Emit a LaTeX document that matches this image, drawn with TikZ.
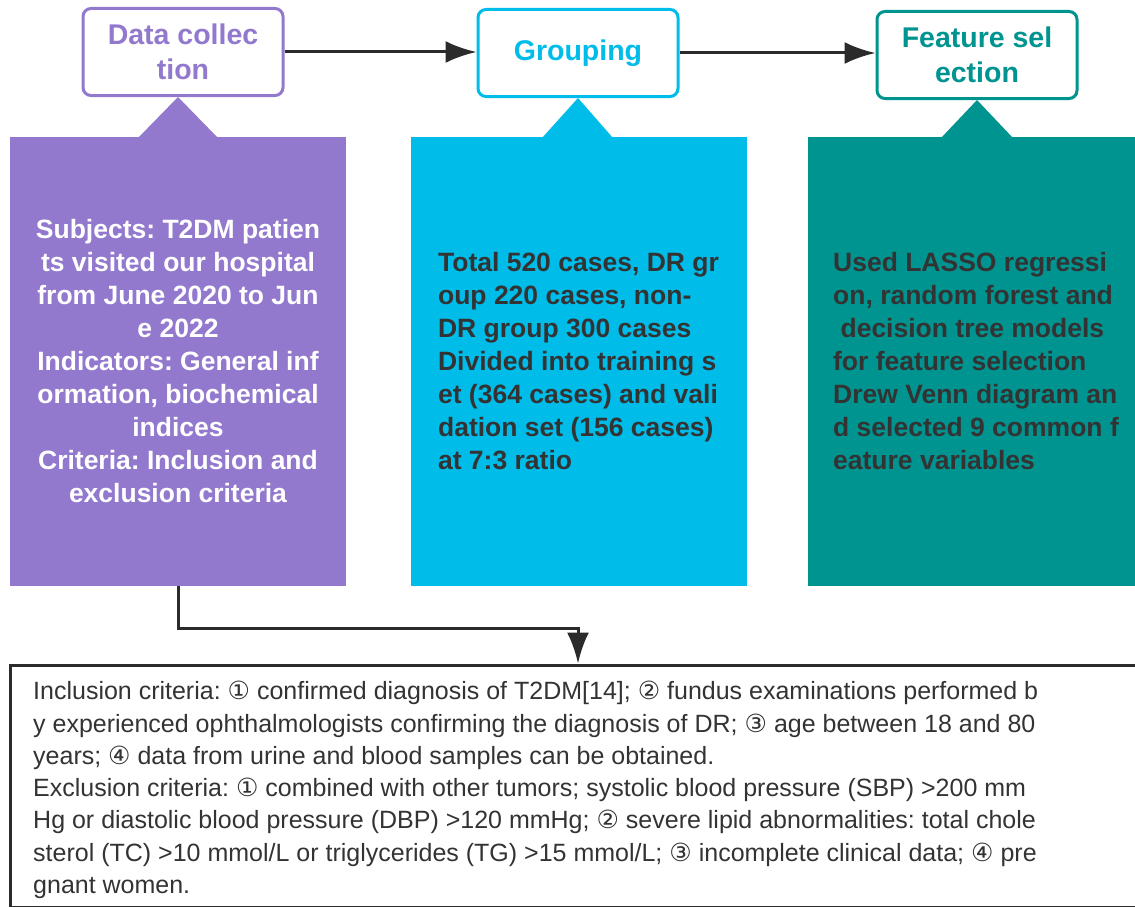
\documentclass[tikz,border=0pt]{standalone}
\usepackage{fontspec}
\setmainfont{Liberation Sans}
\newfontfamily\circfont{DejaVu Sans}
\usetikzlibrary{arrows.meta}
\definecolor{dcpurple}{RGB}{146,121,206}
\definecolor{grpcyan}{RGB}{0,188,233}
\definecolor{fsteal}{RGB}{0,148,144}
\definecolor{linegray}{RGB}{43,43,43}
\definecolor{txtgray}{RGB}{51,51,51}
\newcommand{\cnum}[1]{{\circfont #1}}
\frenchspacing
\tikzset{>={Latex[length=31pt,width=22pt]}}

\begin{document}
\begin{tikzpicture}[x=1pt, y=-1pt,
  head/.style={draw=#1, line width=3pt, rounded corners=8pt, fill=white,
    minimum width=200pt, minimum height=87pt, text=#1, align=center,
    font=\fontsize{28.5}{35}\selectfont\bfseries},
  body/.style={fill=#1, minimum width=336pt, minimum height=449pt, inner sep=0pt,
    font=\fontsize{26.5}{33}\selectfont\bfseries},
  flow/.style={draw=linegray, line width=3pt, ->}]
      \useasboundingbox (0,0) rectangle (1135,907);
      \node[head=dcpurple] (dhead) at (183,52) {Data collec\\tion};
      \node[head=grpcyan] (ghead) at (578,53) {Grouping};
      \node[head=fsteal] (fhead) at (977,55) {Feature sel\\ection};
      \fill[dcpurple] (138,138) -- (218,138) -- (dhead.south -| 178,0) -- cycle;
      \fill[grpcyan] (542,138) -- (613,138) -- (ghead.south) -- cycle;
      \fill[fsteal] (941,138) -- (1013,138) -- (fhead.south) -- cycle;
      \node[body=dcpurple, text=white, align=center] (dbody) at (178,361.5)
        {Subjects: T2DM patien\\ts visited our hospital\\from June 2020 to Jun\\e 2022\\
         Indicators: General inf\\ormation, biochemical\\indices\\
         Criteria: Inclusion and\\exclusion criteria};
      \node[body=grpcyan, text=txtgray, align=left] (gbody) at (578.5,361.5)
        {Total 520 cases, DR gr\\oup 220 cases, non-\\DR group 300 cases\\
         Divided into training s\\et (364 cases) and vali\\dation set (156 cases)\\
         at 7:3 ratio};
      \node[body=fsteal, text=txtgray, align=left] (fbody) at (976,361.5)
        {Used LASSO regressi\\on, random forest and\\\hspace*{0.28em}decision tree models\\
         for feature selection\\Drew Venn diagram an\\d selected 9 common f\\
         eature variables};
      \node[draw=linegray, line width=3pt, minimum width=1150pt, minimum height=242pt]
        (crit) at (585,786) {};
      \node[anchor=west, inner sep=0pt, align=left, text=txtgray,
        font=\fontsize{25}{32.3}\selectfont] (crittext) at (33,790)
        {Inclusion criteria: \cnum{①} confirmed diagnosis of T2DM[14]; \cnum{②} fundus examinations performed b\\
         y experienced ophthalmologists confirming the diagnosis of DR; \cnum{③} age between 18 and 80\\
         years; \cnum{④} data from urine and blood samples can be obtained.\\
         Exclusion criteria: \cnum{①} combined with other tumors; systolic blood pressure (SBP) >200 mm\\
         Hg or diastolic blood pressure (DBP) >120 mmHg; \cnum{②} severe lipid abnormalities: total chole\\
         sterol (TC) >10 mmol/L or triglycerides (TG) >15 mmol/L; \cnum{③} incomplete clinical data; \cnum{④} pre\\
         gnant women.};
      \coordinate (bend) at (578,628);
      \draw[flow] (dhead.east) -- (dhead.east -| ghead.west);
      \draw[flow] (ghead.east) -- (ghead.east -| fhead.west);
      \draw[flow] (dbody.south) |- (bend) -- (bend |- crit.north);
    \end{tikzpicture}
\end{document}
